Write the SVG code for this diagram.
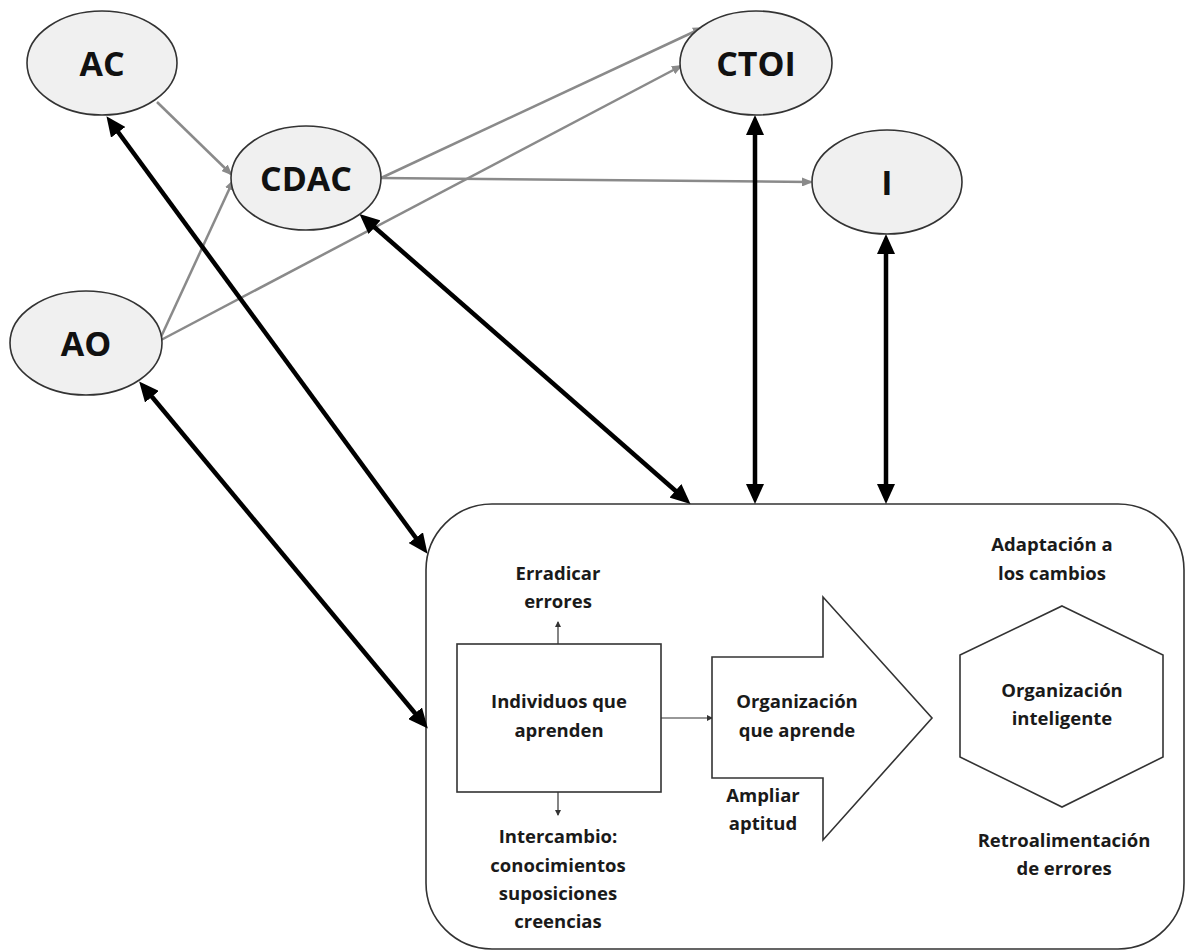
<svg xmlns="http://www.w3.org/2000/svg" width="1187" height="951" viewBox="0 0 1187 951">
  <defs>
    <style>
      .oval { fill: #f0f0f0; stroke: #333; stroke-width: 1.6; }
      .node-label { font-family: "Open Sans", "Liberation Sans", sans-serif; font-weight: bold; font-size: 34px; fill: #111; text-anchor: middle; }
      .txt { font-family: "Open Sans", "Liberation Sans", sans-serif; font-weight: bold; font-size: 18.5px; fill: #1a1a1a; text-anchor: middle; }
      .shape { fill: #fff; stroke: #333; stroke-width: 1.6; }
      .gray { stroke: #8a8a8a; stroke-width: 2.5; fill: none; marker-end: url(#grayHead); }
      .bold { stroke: #000; stroke-width: 4.5; fill: none; marker-start: url(#blackHead); marker-end: url(#blackHead); }
      .thin { stroke: #333; stroke-width: 1.2; fill: none; marker-end: url(#thinHead); }
    </style>
    <marker id="blackHead" markerUnits="userSpaceOnUse" viewBox="0 0 20 18" refX="14" refY="9" markerWidth="20" markerHeight="18" orient="auto-start-reverse">
      <path d="M0,0 L20,9 L0,18 z" fill="#000"/>
    </marker>
    <marker id="grayHead" markerUnits="userSpaceOnUse" viewBox="0 0 11 9" refX="9" refY="4.5" markerWidth="11" markerHeight="9" orient="auto">
      <path d="M0,0 L11,4.5 L0,9 z" fill="#8a8a8a"/>
    </marker>
    <marker id="thinHead" markerUnits="userSpaceOnUse" viewBox="0 0 6 6" refX="5" refY="3" markerWidth="6" markerHeight="6" orient="auto">
      <path d="M0,0 L6,3 L0,6 z" fill="#333"/>
    </marker>
  </defs>

  <rect width="1187" height="951" fill="#fff"/>

  <!-- outer learning-organisation frame -->
  <g id="frame">
    <rect class="shape" x="426" y="504" width="758" height="445" rx="66" ry="66"/>
  </g>

  <!-- connectors -->
  <g id="connectors">
    <line class="gray" x1="157" y1="102" x2="231" y2="174"/>
    <line class="gray" x1="161" y1="337" x2="233" y2="181"/>
    <line class="gray" x1="161" y1="340" x2="681" y2="66"/>
    <line class="gray" x1="381" y1="178" x2="702" y2="28"/>
    <line class="gray" x1="381" y1="178" x2="811" y2="182"/>

    <line class="bold" x1="110" y1="121" x2="424" y2="549"/>
    <line class="bold" x1="143" y1="386" x2="424" y2="724"/>
    <line class="bold" x1="364" y1="218" x2="686" y2="500"/>
    <line class="bold" x1="755" y1="121" x2="755" y2="498"/>
    <line class="bold" x1="886" y1="240" x2="886" y2="498"/>

    <line class="thin" x1="558" y1="644" x2="558" y2="622"/>
    <line class="thin" x1="558" y1="792" x2="558" y2="815"/>
    <line class="thin" x1="661" y1="718" x2="712" y2="718"/>
  </g>

  <g id="AC">
    <ellipse class="oval" cx="102" cy="63" rx="75" ry="52"/>
    <text class="node-label" x="102" y="76">AC</text>
  </g>
  <g id="CDAC">
    <ellipse class="oval" cx="306" cy="178" rx="75" ry="52"/>
    <text class="node-label" x="306" y="191">CDAC</text>
  </g>
  <g id="AO">
    <ellipse class="oval" cx="86" cy="343" rx="76" ry="52"/>
    <text class="node-label" x="86" y="356">AO</text>
  </g>
  <g id="CTOI">
    <ellipse class="oval" cx="756" cy="63" rx="76" ry="52"/>
    <text class="node-label" x="756" y="76">CTOI</text>
  </g>
  <g id="I">
    <ellipse class="oval" cx="887" cy="182" rx="75" ry="52"/>
    <text class="node-label" x="887" y="195">I</text>
  </g>

  <g id="individuos">
    <rect class="shape" x="457" y="644" width="204" height="148"/>
    <text class="txt" x="559" y="708">Individuos que</text>
    <text class="txt" x="559" y="737">aprenden</text>
  </g>

  <g id="erradicar">
    <text class="txt" x="558" y="580">Erradicar</text>
    <text class="txt" x="558" y="608">errores</text>
  </g>

  <g id="intercambio">
    <text class="txt" x="558" y="843">Intercambio:</text>
    <text class="txt" x="558" y="872">conocimientos</text>
    <text class="txt" x="558" y="900">suposiciones</text>
    <text class="txt" x="558" y="928">creencias</text>
  </g>

  <g id="organizacion-aprende">
    <path class="shape" d="M712,657 L823,657 L823,597 L932,718 L823,840 L823,778 L712,778 Z"/>
    <text class="txt" x="797" y="708">Organización</text>
    <text class="txt" x="797" y="737">que aprende</text>
  </g>

  <g id="ampliar">
    <text class="txt" x="763" y="802">Ampliar</text>
    <text class="txt" x="763" y="830">aptitud</text>
  </g>

  <g id="organizacion-inteligente">
    <path class="shape" d="M1062,606 L1163,655 L1163,757 L1062,807 L960,757 L960,655 Z"/>
    <text class="txt" x="1062" y="697">Organización</text>
    <text class="txt" x="1062" y="725">inteligente</text>
  </g>

  <g id="adaptacion">
    <text class="txt" x="1052" y="551">Adaptación a</text>
    <text class="txt" x="1052" y="580">los cambios</text>
  </g>

  <g id="retroalimentacion">
    <text class="txt" x="1064" y="847">Retroalimentación</text>
    <text class="txt" x="1064" y="875">de errores</text>
  </g>
</svg>
